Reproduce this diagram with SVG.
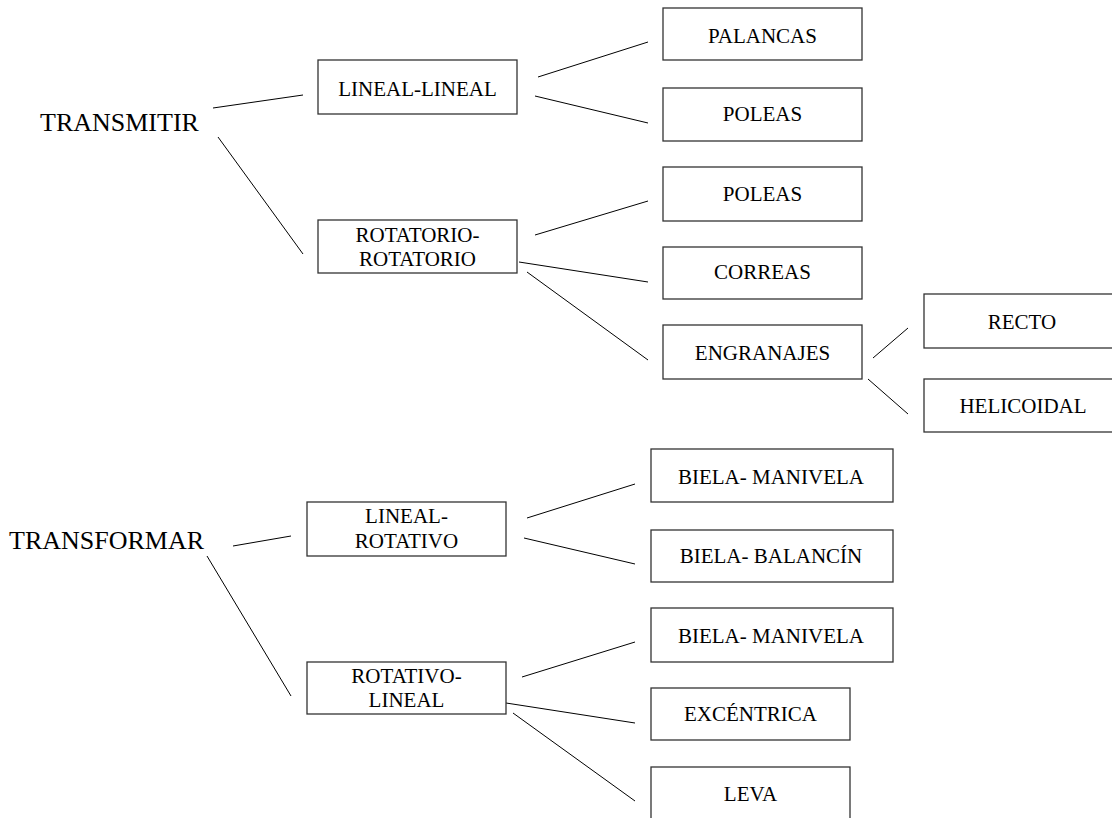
<svg xmlns="http://www.w3.org/2000/svg" width="1112" height="818" viewBox="0 0 1112 818">
<style>
.box{fill:#fff;stroke:#333;stroke-width:1.3}
.t{font-family:"Liberation Serif","Times New Roman",serif;font-size:21px;fill:#000;text-anchor:middle}
.root{font-family:"Liberation Serif","Times New Roman",serif;font-size:26px;fill:#000}
.c line{stroke:#000;stroke-width:1}
</style>
<rect width="1112" height="818" fill="#fff"/>
<g class="c" id="connectors">
<line x1="213" y1="108" x2="303" y2="95"/>
<line x1="218" y1="137" x2="303" y2="254"/>
<line x1="538" y1="77" x2="648" y2="42"/>
<line x1="535" y1="96" x2="648" y2="123"/>
<line x1="535" y1="235" x2="648" y2="201"/>
<line x1="519" y1="262" x2="648" y2="282"/>
<line x1="527" y1="272" x2="648" y2="360"/>
<line x1="873" y1="358" x2="908" y2="328"/>
<line x1="868" y1="379" x2="908" y2="414"/>
<line x1="233" y1="546" x2="291" y2="536"/>
<line x1="207" y1="556" x2="291" y2="696"/>
<line x1="527" y1="518" x2="635" y2="484"/>
<line x1="524" y1="538" x2="635" y2="564"/>
<line x1="522" y1="677" x2="635" y2="642"/>
<line x1="506" y1="703" x2="635" y2="723"/>
<line x1="513" y1="713" x2="635" y2="801"/>
</g>
<g id="transmitir"><text class="root" x="40" y="131">TRANSMITIR</text></g>
<g id="transformar"><text class="root" x="9" y="549">TRANSFORMAR</text></g>
<g id="lineal-lineal"><rect class="box" x="318" y="60" width="199" height="54"/><text class="t" x="417.5" y="96">LINEAL-LINEAL</text></g>
<g id="rotatorio-rotatorio"><rect class="box" x="318" y="220" width="199" height="53"/><text class="t" x="417.5" y="242">ROTATORIO-</text><text class="t" x="417.5" y="266">ROTATORIO</text></g>
<g id="palancas"><rect class="box" x="663" y="8" width="199" height="52"/><text class="t" x="762.5" y="43">PALANCAS</text></g>
<g id="poleas1"><rect class="box" x="663" y="88" width="199" height="53"/><text class="t" x="762.5" y="121">POLEAS</text></g>
<g id="poleas2"><rect class="box" x="663" y="167" width="199" height="54"/><text class="t" x="762.5" y="201">POLEAS</text></g>
<g id="correas"><rect class="box" x="663" y="247" width="199" height="52"/><text class="t" x="762.5" y="279">CORREAS</text></g>
<g id="engranajes"><rect class="box" x="663" y="325" width="199" height="54"/><text class="t" x="762.5" y="360">ENGRANAJES</text></g>
<g id="recto"><rect class="box" x="924" y="294" width="199" height="54"/><text class="t" x="1022" y="329">RECTO</text></g>
<g id="helicoidal"><rect class="box" x="924" y="379" width="199" height="53"/><text class="t" x="1023" y="413">HELICOIDAL</text></g>
<g id="lineal-rotativo"><rect class="box" x="307" y="502" width="199" height="54"/><text class="t" x="406.5" y="523">LINEAL-</text><text class="t" x="406.5" y="548">ROTATIVO</text></g>
<g id="rotativo-lineal"><rect class="box" x="307" y="662" width="199" height="52"/><text class="t" x="406.5" y="683">ROTATIVO-</text><text class="t" x="406.5" y="707">LINEAL</text></g>
<g id="biela-manivela1"><rect class="box" x="651" y="449" width="242" height="53"/><text class="t" x="771" y="484">BIELA- MANIVELA</text></g>
<g id="biela-balancin"><rect class="box" x="651" y="530" width="242" height="52"/><text class="t" x="771" y="563">BIELA- BALANCÍN</text></g>
<g id="biela-manivela2"><rect class="box" x="651" y="608" width="242" height="54"/><text class="t" x="771" y="643">BIELA- MANIVELA</text></g>
<g id="excentrica"><rect class="box" x="651" y="688" width="199" height="52"/><text class="t" x="750.5" y="721">EXCÉNTRICA</text></g>
<g id="leva"><rect class="box" x="651" y="767" width="199" height="54"/><text class="t" x="750.5" y="801">LEVA</text></g>
</svg>
